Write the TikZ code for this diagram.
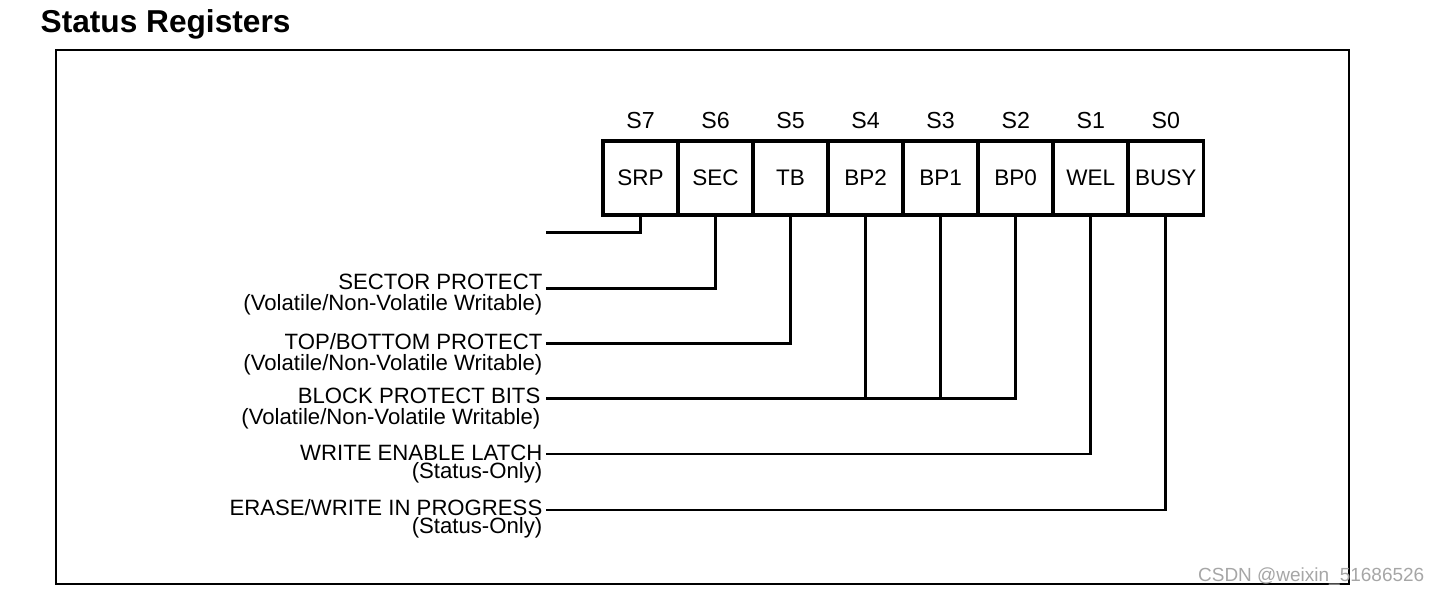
\documentclass[tikz,border=0pt]{standalone}
\usepackage{fontspec}
\setmainfont{Liberation Sans}
\usetikzlibrary{positioning}

\tikzset{
  title/.style={font=\fontsize{9}{10}\selectfont\bfseries, inner sep=0pt},
  frame/.style={line width=0.6pt},
  cell/.style={draw, line width=1.05pt, minimum width=0.75cm, minimum height=0.74cm,
    inner sep=0pt, outer sep=0pt, font=\fontsize{6.4}{7}\selectfont},
  bitname/.style={inner sep=0pt, font=\fontsize{6.6}{7}\selectfont},
  wire/.style={line width=0.85pt},
  lbl/.style={align=right, inner sep=0pt, font=\fontsize{6.3}{6.0}\selectfont}
}

\begin{document}
\begin{tikzpicture}[x=0.01cm, y=-0.01cm]
  \useasboundingbox (0,0) rectangle (1440,595);

  \node[title, anchor=base west] (title) at (40,33) {Status Registers};
  \draw[frame] (56,50) rectangle (1349,584);

  % Register cells
  \node[cell] (srp) at (640.5,178) {SRP};
  \node[cell, right=0pt of srp] (sec)  {SEC};
  \node[cell, right=0pt of sec] (tb)   {TB};
  \node[cell, right=0pt of tb]  (bp2)  {BP2};
  \node[cell, right=0pt of bp2] (bp1)  {BP1};
  \node[cell, right=0pt of bp1] (bp0)  {BP0};
  \node[cell, right=0pt of bp0] (wel)  {WEL};
  \node[cell, right=0pt of wel] (busy) {BUSY};

  % Bit numbers
  \node[bitname, above=0.12cm of srp]  (s7) {S7};
  \node[bitname, above=0.12cm of sec]  (s6) {S6};
  \node[bitname, above=0.12cm of tb]   (s5) {S5};
  \node[bitname, above=0.12cm of bp2]  (s4) {S4};
  \node[bitname, above=0.12cm of bp1]  (s3) {S3};
  \node[bitname, above=0.12cm of bp0]  (s2) {S2};
  \node[bitname, above=0.12cm of wel]  (s1) {S1};
  \node[bitname, above=0.12cm of busy] (s0) {S0};

  % Line ends
  \coordinate (l-srp)  at (546,233);
  \coordinate (l-sec)  at (546,289);
  \coordinate (l-tb)   at (546,344);
  \coordinate (l-bp)   at (546,399);
  \coordinate (l-wel)  at (546,454);
  \coordinate (l-busy) at (546,510);

  % Connectors
  \draw[wire] (srp.south) |- (l-srp);
  \draw[wire] (sec.south) |- (l-sec);
  \draw[wire] (tb.south) |- (l-tb);
  \draw[wire] (bp0.south) |- (l-bp);
  \draw[wire] (bp1.south) -- (bp1.south |- l-bp);
  \draw[wire] (bp2.south) -- (bp2.south |- l-bp);
  \draw[wire] (wel.south) |- (l-wel);
  \draw[wire] (busy.south) |- (l-busy);

  % Labels
  \node[lbl, anchor=north east] (sector) at ([shift={(-3,-16)}]l-sec)
    {SECTOR PROTECT\\(Volatile/Non-Volatile Writable)};
  \node[lbl, anchor=north east] (topbot) at ([shift={(-3,-11)}]l-tb)
    {TOP/BOTTOM PROTECT\\(Volatile/Non-Volatile Writable)};
  \node[lbl, anchor=north east] (block) at ([shift={(-5,-12)}]l-bp)
    {BLOCK PROTECT BITS\\(Volatile/Non-Volatile Writable)};
  \node[lbl, anchor=north east] (latch) at ([shift={(-3,-10)}]l-wel)
    {WRITE ENABLE LATCH\\[-0.03cm](Status-Only)};
  \node[lbl, anchor=north east] (prog) at ([shift={(-3,-11)}]l-busy)
    {ERASE/WRITE IN PROGRESS\\[-0.03cm](Status-Only)};

  \node[anchor=base east, inner sep=0pt, text=black!35,
    font=\fontsize{5.4}{6}\selectfont] (wm) at (1425,582) {CSDN @weixin\_51686526};
\end{tikzpicture}
\end{document}
